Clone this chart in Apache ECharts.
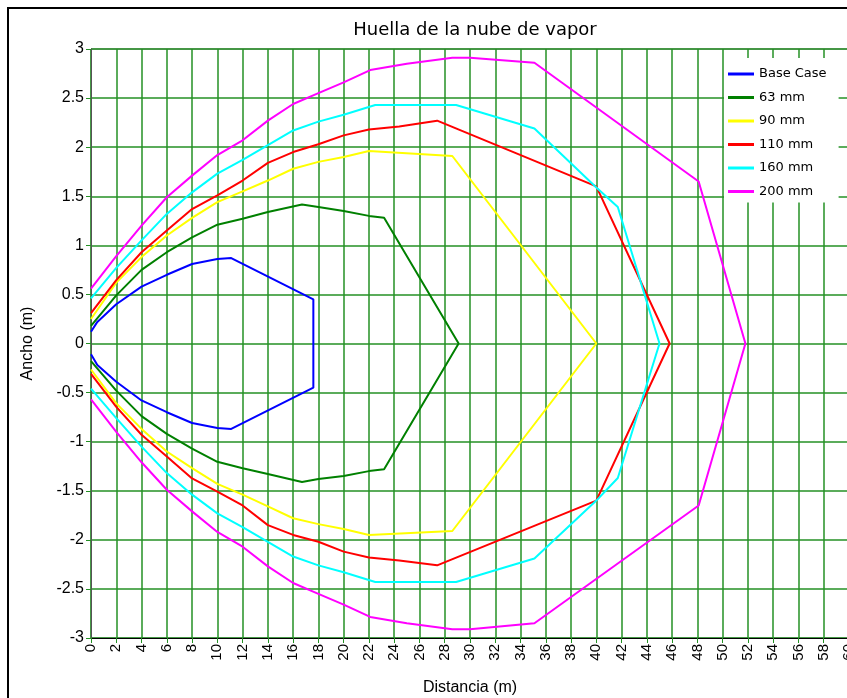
<!DOCTYPE html>
<html>
<head>
<meta charset="utf-8">
<script src="https://cdn.jsdelivr.net/npm/echarts@6/dist/echarts.min.js"></script>
<style>
html,body{margin:0;padding:0;background:#fff;overflow:hidden;}
#chart{width:870px;height:698px;}
</style>
</head>
<body>
<div id="chart"></div>
<script>
const titleText = 'Huella de la nube de vapor';
const xAxisName = 'Distancia (m)';
const yAxisName = 'Ancho (m)';
const seriesNames = ['Base Case', '63 mm', '90 mm', '110 mm', '160 mm', '200 mm'];
const seriesColors = ['#0000ff', '#008000', '#ffff00', '#ff0000', '#00ffff', '#ff00ff'];

const baseX = [0, 0.5, 2, 4, 6, 8, 10, 11.1, 17.6, 17.6, 11.1, 10, 8, 6, 4, 2, 0.5, 0];
const baseY = [0.12, 0.22, 0.40, 0.58, 0.70, 0.81, 0.86, 0.87, 0.45, -0.45, -0.87, -0.86, -0.81, -0.70, -0.58, -0.39, -0.22, -0.11];

const mm63X = [0, 2, 4, 6, 8, 10, 12, 14, 16.7, 18, 20, 22, 23.2, 29.1, 23.2, 22, 20, 18, 16.7, 14, 12, 10, 8, 6, 4, 2, 0];
const mm63Y = [0.18, 0.49, 0.75, 0.93, 1.08, 1.21, 1.27, 1.34, 1.415, 1.39, 1.35, 1.30, 1.28, 0, -1.28, -1.30, -1.35, -1.38, -1.41, -1.33, -1.27, -1.205, -1.07, -0.92, -0.74, -0.48, -0.18];

const mm90X = [0, 2, 4, 6, 8, 10, 12, 14, 16, 18, 20, 22, 28.6, 40, 28.6, 22, 20, 18, 16, 14, 12, 10, 8, 6, 4, 2, 0];
const mm90Y = [0.25, 0.62, 0.88, 1.10, 1.28, 1.44, 1.55, 1.66, 1.78, 1.85, 1.90, 1.96, 1.91, 0, -1.91, -1.95, -1.89, -1.84, -1.78, -1.66, -1.54, -1.43, -1.27, -1.10, -0.87, -0.61, -0.265];

const mm110X = [0, 2, 4, 6, 8, 10, 12, 14, 16, 18, 20, 22, 24.4, 27.4, 40, 45.8, 40, 27.4, 24.4, 22, 20, 18, 16, 14, 12, 10, 8, 6, 4, 2, 0];
const mm110Y = [0.31, 0.645, 0.93, 1.15, 1.37, 1.51, 1.66, 1.84, 1.95, 2.03, 2.12, 2.18, 2.21, 2.27, 1.60, 0, -1.60, -2.26, -2.21, -2.18, -2.12, -2.02, -1.95, -1.85, -1.65, -1.51, -1.375, -1.15, -0.93, -0.645, -0.31];

const mm160X = [0, 2, 4, 6, 8, 10, 12, 14, 16, 18, 20, 22.5, 28.9, 35.1, 40, 41.7, 45, 41.7, 40, 35.1, 28.9, 22.5, 20, 18, 16, 14, 12, 10, 8, 6, 4, 2, 0];
const mm160Y = [0.46, 0.77, 1.05, 1.32, 1.54, 1.73, 1.87, 2.02, 2.17, 2.26, 2.33, 2.43, 2.43, 2.19, 1.59, 1.39, 0, -1.37, -1.60, -2.19, -2.43, -2.43, -2.33, -2.26, -2.17, -2.02, -1.87, -1.73, -1.54, -1.32, -1.05, -0.76, -0.46];

const mm200X = [0, 2, 4, 6, 8, 10, 12, 14, 16, 18, 20, 22.1, 25, 28.6, 30, 35.1, 48.1, 51.8, 48.1, 35.1, 30, 28.6, 25, 22.1, 20, 18, 16, 14, 12, 10, 8, 6, 4, 2, 0];
const mm200Y = [0.56, 0.89, 1.20, 1.49, 1.71, 1.92, 2.07, 2.27, 2.44, 2.55, 2.66, 2.785, 2.85, 2.91, 2.91, 2.86, 1.65, 0, -1.65, -2.85, -2.91, -2.91, -2.85, -2.785, -2.66, -2.55, -2.44, -2.27, -2.07, -1.92, -1.71, -1.49, -1.21, -0.90, -0.57];

const xTickInterval = 2;
const yTickInterval = 0.5;

const seriesXs = [baseX, mm63X, mm90X, mm110X, mm160X, mm200X];
const seriesYs = [baseY, mm63Y, mm90Y, mm110Y, mm160Y, mm200Y];

const chart = echarts.init(document.getElementById('chart'), null, {renderer: 'canvas'});

const gridGreen = '#249024';
const font = 'Liberation Sans, Arial, sans-serif';

const series = seriesNames.map((name, i) => ({
  name: name,
  type: 'line',
  showSymbol: false,
  symbol: 'none',
  lineStyle: {color: seriesColors[i], width: 2},
  itemStyle: {color: seriesColors[i]},
  z: 3 + i,
  animation: false,
  data: seriesXs[i].map((x, k) => [x, seriesYs[i][k]])
}));

chart.setOption({
  backgroundColor: '#ffffff',
  animation: false,
  title: {
    text: titleText,
    left: 470,
    textAlign: 'center',
    top: 16,
    textStyle: {fontFamily: 'DejaVu Sans, sans-serif', fontSize: 18, fontWeight: 'normal', color: '#000'}
  },
  graphic: [{
    type: 'rect',
    shape: {x: 8, y: 8, width: 900, height: 800},
    style: {fill: 'none', stroke: '#000', lineWidth: 2},
    z: 100
  }],
  legend: {
    orient: 'vertical',
    left: 724,
    top: 58,
    padding: [9, 12, 4, 4],
    itemGap: 9.5,
    itemWidth: 26,
    itemHeight: 3,
    icon: 'rect',
    backgroundColor: '#ffffff',
    textStyle: {fontFamily: 'DejaVu Sans, sans-serif', fontSize: 13, color: '#000', lineHeight: 14},
    data: seriesNames
  },
  grid: {
    left: 91, top: 49, width: 758, height: 589,
    outerBoundsMode: 'none',
    containLabel: false,
    show: true, borderColor: '#555', borderWidth: 1, backgroundColor: 'transparent'
  },
  xAxis: {
    type: 'value',
    min: 0, max: 60, interval: xTickInterval,
    name: xAxisName,
    nameLocation: 'middle',
    nameGap: 42,
    nameTextStyle: {fontFamily: font, fontSize: 16, color: '#000'},
    axisLine: {show: true, onZero: false, lineStyle: {color: '#000', width: 1}},
    axisTick: {show: true, length: 5, lineStyle: {color: gridGreen}},
    axisLabel: {rotate: 90, fontFamily: font, fontSize: 15, color: '#000', margin: 6},
    splitLine: {show: true, lineStyle: {color: gridGreen, width: 1.5}}
  },
  yAxis: {
    type: 'value',
    min: -3, max: 3, interval: yTickInterval,
    name: yAxisName,
    nameLocation: 'middle',
    nameGap: 55,
    nameTextStyle: {fontFamily: font, fontSize: 16, color: '#000'},
    axisLine: {show: true, onZero: false, lineStyle: {color: '#555', width: 1}},
    axisTick: {show: true, length: 5, lineStyle: {color: gridGreen}},
    axisLabel: {fontFamily: font, fontSize: 16, color: '#000', margin: 7},
    splitLine: {show: true, lineStyle: {color: gridGreen, width: 1.5}}
  },
  series: series
});
</script>
</body>
</html>
